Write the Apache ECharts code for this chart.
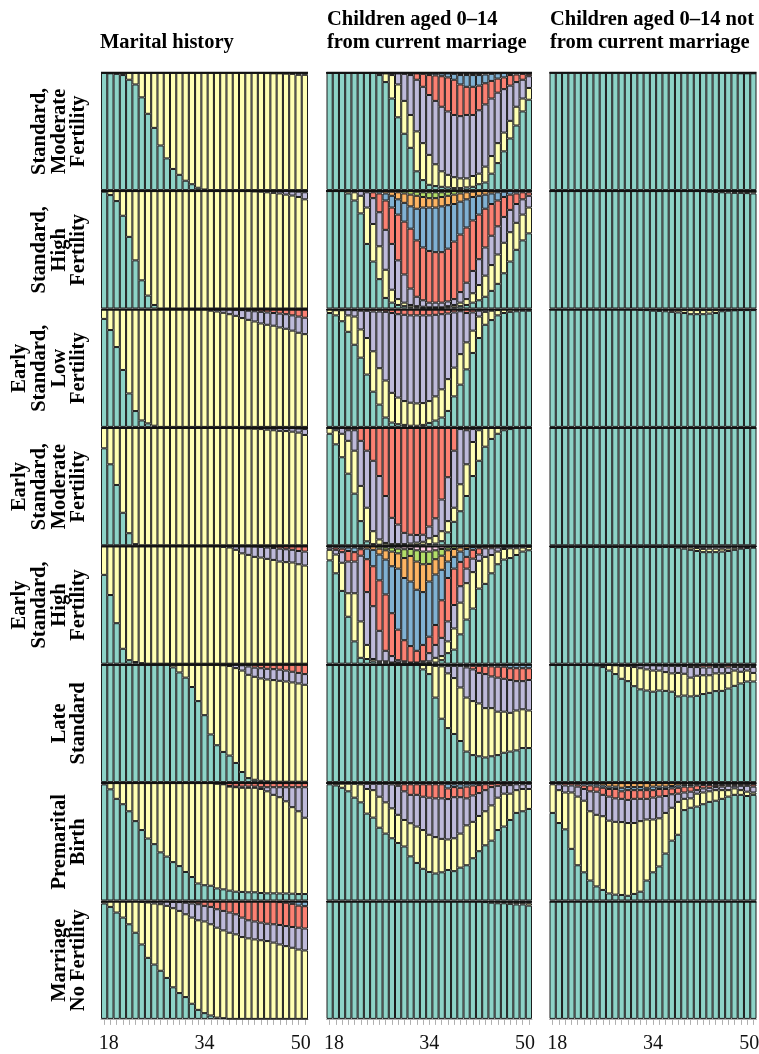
<!DOCTYPE html>
<html>
<head>
<meta charset="utf-8">
<script src="https://cdn.jsdelivr.net/npm/echarts@6/dist/echarts.min.js"></script>
<style>
html, body { margin: 0; padding: 0; background: #ffffff; }
#chart { width: 759px; height: 1054px; }
</style>
</head>
<body>
<div id="chart"></div>
<script>
// Ages on the horizontal axis and the ones that get a printed label
const ages = ['18','19','20','21','22','23','24','25','26','27','28','29','30','31','32','33','34',
              '35','36','37','38','39','40','41','42','43','44','45','46','47','48','49','50'];
const tickAges = ['18', '34', '50'];

// State colours, bottom of each stack first
const stateColors = ['#8DD3C7', '#FFFFB3', '#BEBADA', '#FB8072', '#80B1D3', '#FDB462', '#B3DE69', '#FCCDE5'];

const columnTitles = [
  ['Marital history'],
  ['Children aged 0\u201314', 'from current marriage'],
  ['Children aged 0\u201314 not', 'from current marriage']
];

const clusterLabels = [
  ['Standard,', 'Moderate', 'Fertility'],
  ['Standard,', 'High', 'Fertility'],
  ['Early', 'Standard,', 'Low', 'Fertility'],
  ['Early', 'Standard,', 'Moderate', 'Fertility'],
  ['Early', 'Standard,', 'High', 'Fertility'],
  ['Late', 'Standard'],
  ['Premarital', 'Birth'],
  ['Marriage', 'No Fertility']
];

// Each panel: one entry per age, giving the percentage in each state (bottom state first)

// ---- Standard, Moderate Fertility
const stdModMarital = [[100],[99.5,0.5],[99,1],[98,2],[94,6],[90,10],[79,21],[65,35],[53,47],[38,62],[27,73],[18,82],[13,87],[8,92],[5,95],[2,98],[0.5,99.5],
  [0,100],[0,100],[0,100],[0,100],[0,100],[0,100],[0,100],[0,100],[0,100],
  [0,99.7,0.3],[0,99.5,0.5],[0,99.5,0.5],[0,99.2,0.8],[0,99,1],[0,98.2,1.5,0.3],[0,98.2,1.5,0.3]];
const stdModChildren = [[100],[100],[100],[100],[100],[100],[100],[100],
  [98,2],[92,7.4,0.6],[78,20,2],[62,28,9.4,0.6],[48,28,23,1],[36,28,34,2],[16,34,44,5.4,0.6],[8.5,31.5,48,11,1],[4.5,25.5,51,17,2],
  [3.4,18.6,54,21.7,1.7,0.6],[2.8,13.2,55,26,2.4,0.6],[2.3,10.7,54,29,3.4,0.6],[1.7,9.3,53,30,5,1],[1.7,8.3,53,27,8,1.5,0.5],
  [2.3,7.7,54,24,10,1.5,0.5],[2.8,9.2,52,24,10,1.5,0.5],[5,9,54,21,9,1.5,0.5],[6.5,13.5,53,18,7.5,1.5],[14,15,49,15,6,1],
  [23,17,43,12,4.5,0.5],[33,16,37,10,4],[44,15,30,9,2],[55,16,21,6.5,1.5],[67,11,16,5,1],[77,10,10,2,1]];
const stdModOther = [[100],[100],[100],[100],[100],[100],[100],[100],[100],[100],[100],[100],[100],[100],[100],[100],[100],
  [100],[100],[100],[100],[100],[100],[100],[100],[100],[100],[100],[100],[100],[99.5,0.5],[99.5,0.5],[99.5,0.5]];

// ---- Standard, High Fertility
const stdHighMarital = [[99.5,0.5],[96.6,3.4],[91.5,8.5],[79,21],[61,39],[41,59],[24,76],[11,89],[3,97],
  [0,100],[0,100],[0,100],[0,100],[0,100],[0,100],[0,100],[0,100],[0,100],[0,100],[0,100],[0,100],[0,100],[0,100],[0,100],
  [0,99.7,0.3],[0,99.5,0.5],[0,99,1],[0,98.5,1.5],[0,98,2],[0,97,3],[0,96.2,3.5,0.3],[0,95,4.5,0.5],[0,93,6,1]];
const stdHighChildren = [[100],[100],[100],[98,2],[92,7,1],[81,15,4],[55,31,13,1],[40,32,22,5,1],[25,28,29,16,2],
  [9,24,34,25,6,2],[5,11,39,31,10,3.5,0.5],[3,5,33,39,13,6,1],[2,3,24,45,16,8,2],[1,2,14,51,19,10,3],
  [1,1,8,48,27,11,3.5,0.5],[0.5,1,5.5,45,34,9,4,1],[0.5,0.5,4,44,37,8,5,1],[0.5,0.5,4,43,38,8,5,1],[0.5,0.5,4,43,39,8,4,1],
  [1,1,4,45,37,8,3.5,0.5],[1,2,5,49,32,8,3],[2,3,9,49,28,7,2],[3,5,14,47,24,6,1],[5,8,19,43,20,4.5,0.5],
  [7,13,22,38,16,4],[10,18,24,33,12,3],[15,22,25,27,9,2],[21,25,24,22,7,1],[30,26,22,17,4.5,0.5],
  [40,25,19,13,3],[50,23,16,9,2],[58,22,13,6,1],[64,22,10,3,1]];
const stdHighOther = [[100],[100],[100],[100],[100],[100],[100],[100],[100],[100],[100],[100],[100],[100],[100],[100],[100],
  [100],[100],[100],[100],[100],[100],[100],[100],
  [99.5,0.5],[99.2,0.8],[99,0.7,0.3],[98.8,1,0.2],[98.5,1.2,0.3],[98.5,1.2,0.3],[98.3,1.2,0.5],[98,1.5,0.5]];

// ---- Early Standard, Low Fertility
const earlyLowMarital = [[92,8],[82.5,17.5],[68,32],[48.5,51.5],[28.5,71.5],[13.5,86.5],[5.5,94.5],[3,97],[1,99],
  [0,100],[0,100],[0,100],[0,100],[0,100],[0,100],[0,100],[0,100],
  [0,99,1],[0,98.3,1.7],[0,97.2,2.8],[0,96,4],[0,94.6,5.2,0.2],[0,92.7,6.8,0.5],[0,91.2,7.8,1],[0,89.8,8.7,1.5],
  [0,88.1,9.9,2],[0,87,10.5,2.5],[0,86.2,10.8,3],[0,84.7,11.8,3.5],[0,83.6,12.4,4],[0,82,13,5],[0,80.2,13.8,6],[0,79,14,7]];
const earlyLowChildren = [[97,3],[95,4.4,0.6],[90,9.4,0.6],[81,14,5],[70,24,5.4,0.6],[59,24,16,1],[44.6,31.1,23.2,1.1],
  [30,34.4,33.9,1.7],[19,31,48.3,1.7],[8,31.5,58.5,2],[3.7,25.3,68,3],[2.3,22.7,71,4],[1.7,20.3,73.5,4.5],[1,19.6,74.4,5],
  [1,19,75,5],[1.7,18.6,74.7,5],[3.4,18.6,73,5],[5.4,20.6,69.5,4.5],[8,24,64,4],[13.6,27.1,55.9,3.4],[26,24.5,47,2.5],
  [36,26,36.5,1.5],[49,23,25,3],[63,19,15.5,2.5],[75.7,18.3,5,1],[87,11,2],[91,8,1],[95,4.5,0.5],[97,3],[98,2],
  [98.5,1.5],[99,1],[99,1]];
const earlyLowOther = [[100],[100],[100],[100],[100],[100],[100],[100],[100],[100],[100],[100],[100],[100],
  [99.7,0.3],[99.5,0.5],[99,1],[98.8,1,0.2],[98.5,1.2,0.3],[98,1.5,0.5],[97.5,2,0.5],[97,2.5,0.5],[96,3.5,0.5],
  [96,3.5,0.5],[96,3.5,0.5],[96.5,3,0.5],[97,2.5,0.5],[98.5,1.2,0.3],[99,0.8,0.2],[99.3,0.5,0.2],[99.5,0.5],[99.5,0.5],[99.5,0.5]];

// ---- Early Standard, Moderate Fertility
const earlyModMarital = [[82.6,17.4],[69,31],[51.4,48.6],[27.7,72.3],[10.3,89.7],[1,99],
  [0,100],[0,100],[0,100],[0,100],[0,100],[0,100],[0,100],[0,100],[0,100],[0,100],[0,100],[0,100],[0,100],[0,100],[0,100],[0,100],
  [0,99.7,0.3],[0,99.5,0.5],[0,99.3,0.7],[0,99,1],[0,98.5,1.5],[0,98,2],[0,97.5,2.5],[0,97.3,2.5,0.2],[0,96.8,3,0.2],
  [0,96,3.5,0.5],[0,94,5,1]];
const earlyModChildren = [[95,5],[86,12,2],[75,20,5],[61,28,9,2],[44,36.6,17.4,2],[20.6,30,38.4,11],[3.4,28.6,48.6,19.4],
  [1,11,60,28],[0.5,4.5,54,41],[0,2,40,58],[0,1,22.4,76.6],[0,1,16.7,82.3],[0,1,9.6,89.4],[0,1.5,7.5,91],[0.3,2,6.5,91.2],
  [0.5,2.5,6,91],[1,5,10,84],[1.5,6.5,15,77],[3.5,8.5,27,61],[11,9.6,37.4,42],[20,12,48.6,19.4],[29,23,47,1],
  [42,27,29,2],[59,29,11,1],[72,26,2],[84,16],[90.6,9.4],[95,5],[98,2],[99,1],[100],[100],[100]];
const earlyModOther = [[100],[100],[100],[100],[100],[100],[100],[100],[100],[100],[100],[100],[100],[100],[100],[100],[100],
  [100],[100],[100],[100],[100],[100],[100],[100],[100],[100],[100],[100],[100],[100],[100],[100]];

// ---- Early Standard, High Fertility
const earlyHighMarital = [[75.7,24.3],[58.5,41.5],[34.5,65.5],[12.7,87.3],[3,97],[1.4,98.6],[0.5,99.5],
  [0,100],[0,100],[0,100],[0,100],[0,100],[0,100],[0,100],[0,100],[0,100],[0,100],[0,100],[0,100],
  [0,99.5,0.5],[0,99,1],[0,97,3],[0,94,6],[0,92.7,7.3],[0,91,8.8,0.2],[0,90.4,9.1,0.5],[0,89.3,9.7,1],
  [0,88.4,10.1,1.5],[0,87,11,2],[0,86.5,11,2.5],[0,86.2,10.8,3],[0,84.7,11.3,4],[0,83.6,11.9,4.5]];
const earlyHighChildren = [[88,9,2,1],[77,16,4,2,1],[62,24,9,3,2],[40,20,27,9,3,1],[19,41,27,8,4,1],[5,31,56,5.5,1.5,1],
  [4,12,45,28,9,2],[2,2,45,34,14,3],[1,1,26,43,22,5,2],[1,1,9,48,29.7,7.9,2.4,1],[0.5,0.5,5.5,36.5,40,12.5,3.5,1],
  [0.5,0.5,2,26,52,13,4,2],[0,1,1,18,53,17,7.5,2.5],[0,0.5,0.5,14,55,21.8,5.9,2.3],[0,0.5,0.5,10,52,24,9.6,3.4],
  [0,1,1,14,45,23.7,10.8,4.5],[0.5,1.5,7,14,47,15,10.5,4.5],[1,4,11,17,43,13,7.6,3.4],[3,3.5,15.5,32,26,12,5.7,2.3],
  [9,10,17,37,14,9.6,2.4,1],[12,18,20,31,10,6.7,2.3],[25,27,14,20.7,8.8,3.5,1],[37.6,31,12.4,10,6.7,2.3],
  [47,31,11.5,7.5,2.4,0.6],[64,23.6,5.4,5.3,1.2,0.5],[68,23,7.3,1.7],[77,15.6,5.7,1.7],[84.7,10.8,3.5,1],
  [88.7,9,1.8,0.5],[90,8.3,1.7],[92.6,5.7,1.7],[95.5,3.5,1],[96.6,2.9,0.5]];
const earlyHighOther = [[99.4,0.3,0.3],[99.4,0.3,0.3],[99.4,0.3,0.3],[99.4,0.3,0.3],[99.4,0.3,0.3],[99.4,0.3,0.3],[99.4,0.3,0.3],
  [99.4,0.3,0.3],[99.4,0.3,0.3],[99.4,0.3,0.3],[99.4,0.3,0.3],[99.4,0.3,0.3],[99.4,0.3,0.3],[99.4,0.3,0.3],[99.4,0.3,0.3],
  [99.4,0.3,0.3],[99.4,0.3,0.3],[99.4,0.3,0.3],[99.4,0.3,0.3],[99.4,0.3,0.3],
  [99,0.7,0.3],[98,1.5,0.5],[97,2,1],[96,2.5,1.5],[95,2.8,1.8,0.4],[95,3,1.6,0.4],[95,3,1.7,0.3],[95.5,2.5,1.7,0.3],
  [96,2.2,1.5,0.3],[97,1.8,1,0.2],[98,1,0.8,0.2],[98.5,0.8,0.5,0.2],[98.8,0.8,0.4]];

// ---- Late Standard
const lateMarital = [[100],[100],[100],[100],[100],[100],[100],[100],[100],[100],[100],
  [97.7,2.3],[93.4,6.6],[89,11],[81,19],[69,31],[57,43],[40.6,59.4],[31.4,68.6],[25.7,73.8,0.5],[22.6,76.3,1.1],
  [16.3,80.8,2.9],[8.6,86.4,4.5,0.5],[3.4,88,7.1,1.5],[2,87.7,7.8,2.5],[1.1,87.2,8.7,3],[0.6,86.8,9.1,3.5],
  [0.3,86.6,9.3,3.8],[0.3,86,9.5,4.2],[0.3,85.4,9.3,5],[0.3,84.6,9.1,6],[0.3,83.7,9,7],[0.3,82.6,9.1,8]];
const lateChildren = [[100],[100],[100],[100],[100],[100],[100],[100],[100],[100],[100],[100],[100],[100],[100],
  [96,4],[92,8],[72,27,1],[54,44.6,1.4],[46,46.6,6.4,1],[41,47.6,10.4,1],[35,45.6,18.4,1],[26,46,25.7,1.3,1],
  [23,46,27,3,1],[22,45,26,6,1],[21,42,29,7,1],[22,41,27,8.6,1.4],[23,37,29,9.3,1.7],[25,35,28,10.3,1.7],
  [26,33,28,10,3],[27,34,25,11,3],[29,33,24,11,3],[29,32,26,10,3]];
const lateOther = [[100],[100],[100],[100],[100],[100],[100],
  [99.4,0.6],[98,2],[95,5],[92,7.5,0.5],[88,11,1],[86,13,1],[81.7,16.3,2],[79,18,2.5,0.5],[78,18,3.5,0.5],
  [77,18,4.5,0.5],[78,17,4.3,0.7],[77.7,16,5.3,1],[77,15.6,6.4,1],[73,20,6,1],[73.7,18.6,6.6,1.1],[73,16,9,2],
  [73.5,17.1,7.4,2],[75,16,6.7,2.3],[76,15,6.7,2.3],[77.5,15.1,5.4,1,1],[77.7,14.9,5.4,1,1],[79.7,13.3,4.7,2.3],
  [82,13,3,2],[84,10,4,2],[85.7,9.3,3,1,1],[85.7,7.3,5,1,1]];

// ---- Premarital Birth
const premaritalMarital = [[98.9,1.1],[94.7,5.3],[86.6,13.4],[82,18],[76,24],[67.6,32.4],[60,40],[52.8,47.2],[48,52],
  [41,59],[37.4,62.6],[32.7,67.3],[29.3,70.7],[24.3,75.7],[20,80],[14.5,85.5],[13,87],[12.6,87.4],[10.3,89.2,0,0.5],
  [9.5,89.5,0.3,0.7],[8.4,88.6,0.5,2.5],[7.5,89,0.5,3],[7.3,88.7,1,3],[7,89,1,3],[7,89,1,3],[6.4,88.6,1.5,3.5],
  [6.1,86.9,3.5,3.5],[6.1,83.9,6.5,3.5],[6,82,8.5,3.5],[6,78.5,12,3.5],[5.8,73.7,17,3.5],[5.5,70.5,20.5,3.5],[5.5,65,26,3.5]];
const premaritalChildren = [[99,1],[98,1.5,0.5],[96,3.5,0.5],[93,6.5,0.5],[87.6,11.8,0.6],[83.6,15.4,1],[74,21,4.4,0.6],
  [70.6,23.4,5.4,0.6],[62,26.4,11,0.6],[57,26.6,15.8,0.6],[53,25.5,20.4,1.1],[49,24,24.7,1.7,0.6],[46,22.6,24.4,6,1],
  [37.6,28.2,24.2,9,1],[32,31,27,9,1],[27,33,28.4,10.6,1],[24.3,31.7,31.6,11.4,1],[23,31,33,12,1],[24,28.5,34.5,12,1],
  [26,26,34.4,9.1,3.9,0.6],[25,28,35,8.6,2.4,1],[28,29,31,8,3,1],[30,34,23,10,2.4,0.6],[36,31,22.5,8.5,2],
  [42,30,19.5,6.8,1.7],[47,29,18,5,1],[51,30,15.6,2.8,0.6],[60,27.6,10.1,2.3],[63,28,7.3,1.7],[68.6,22.4,7.3,1.7],
  [74.6,19.4,5,1],[76,19,4,1],[78,17,4.4,0.6]];
const premaritalOther = [[74.6,24.4,1],[66,28,5,1],[60.6,31.4,6,2],[44,48,6,2],[30,58.5,8.5,2,1],[24,61,10,3,2],
  [17,59,17,5,2],[12,61,19.7,4.3,2,1],[9,62.8,18.2,6,2,2],[6,62,20.5,6.5,2,3],[5,62,20,8,2,3],[4.7,62.1,19.8,6.4,3,4],
  [4,62,19.7,8.3,2.6,3.4],[5.6,60.4,20.6,7.4,2.6,3.4],[7.5,60.1,19,7.4,2.6,3.4],[17,52,17.6,7.4,2,4],[24,45,18.7,6.3,3,3],
  [29,41,18.5,6.5,2,3],[40,34.6,14.4,6,2,3],[51,28,11.5,5,2,2.5],[56,28,7,5,2,2],[77,9.6,5.4,5,1.5,1.5],
  [79,8,5.7,4.3,1.5,1.5],[80,11,3,4,1,1],[82,10,3.5,2.8,1,0.7],[84,9,3,2.5,1,0.5],[85,9,2.6,1.9,1,0.5],
  [86.6,7.4,3,1.5,1,0.5],[88.5,5.5,3.7,1.3,0.5,0.5],[90,5.5,2.2,1.3,0.5,0.5],[90,4,3.7,1.3,0.5,0.5],
  [89,3.7,5,1.3,0.5,0.5],[90,2,5,2,0.5,0.5]];

// ---- Marriage, No Fertility
const noFertMarital = [[98.3,1.7],[95.4,4.6],[90.6,9.4],[86.3,13.7],[80.6,19.4],[73.4,26.6],[63.4,36.3,0.3],[52,47.2,0.8],
  [46.3,52,1.7],[41,56.7,2.3],[34.9,61.4,3.7],[26.9,67.4,5.4,0.3],[22,70,7.5,0.5],[18.6,70.5,9.9,1],[12.9,73.4,12,1.7],
  [7.7,76.3,13.7,2.3],[4.9,78.1,13.3,3.7],[2.9,77.7,14.8,4.6],[1.1,76.6,15.7,6.6],[0.6,74.8,16.6,8],[0,73.4,17.2,9.4],
  [0,72,17.1,10.9],[0,69.7,16.6,13.7],[0,68.6,15.4,16],[0,67.7,15.3,17],[0,67,15,18],[0,66.3,14.8,18.9],
  [0,65,15.6,19.4],[0,63.4,16.6,19.5,0.5],[0,62,17.1,19.9,1],[0,60.6,17.7,19.7,2],[0,59.1,18.6,18.8,3.5],[0,58.3,18.7,19,4]];
const noFertChildren = [[100],[100],[100],[100],[100],[100],[100],[100],[100],[100],[100],[100],[100],[100],[100],[100],[100],
  [100],[100],[100],[100],[100],[100],[100],[100],
  [99.5,0.5],[99,1],[98.5,1.5],[98.5,1,0.5],[98,1.5,0.5],[97.5,1.5,0.5,0.5],[97.5,1.5,0.5,0.5],[96.5,2,1,0.5]];
const noFertOther = [[100],[100],[100],[100],[100],[100],[100],[100],[100],[100],[100],[100],[100],[100],[100],[100],[100],
  [100],[100],[100],[100],[100],[100],[100],[100],[100],[100],[100],[100],[100],[100],[100],[100]];

const panelRows = [
  [stdModMarital, stdModChildren, stdModOther],
  [stdHighMarital, stdHighChildren, stdHighOther],
  [earlyLowMarital, earlyLowChildren, earlyLowOther],
  [earlyModMarital, earlyModChildren, earlyModOther],
  [earlyHighMarital, earlyHighChildren, earlyHighOther],
  [lateMarital, lateChildren, lateOther],
  [premaritalMarital, premaritalChildren, premaritalOther],
  [noFertMarital, noFertChildren, noFertOther]
];

// Layout of the 8 x 3 panel grid (pixels)
const colLeft = [101, 326.5, 549.5];
const colWidth = [207, 205.5, 207];
const rowTop0 = 72.7, rowStep = 118.4, rowHeight = 117.4;
const serif = '"Liberation Serif", "Times New Roman", serif';
const axisFont = { fontFamily: serif, fontSize: 20, color: '#111' };

const grids = [], xAxes = [], yAxes = [], series = [];
const graphics = [];
panelRows.forEach((row, r) => {
  row.forEach((panel, c) => {
    const gi = grids.length;
    const isBottom = r === panelRows.length - 1;
    const top = rowTop0 + r * rowStep;
    grids.push({ left: colLeft[c], top: top, width: colWidth[c], height: rowHeight,
                 containLabel: false, outerBoundsMode: 'none' });
    xAxes.push({
      type: 'category', gridIndex: gi, data: ages, show: isBottom, offset: 7,
      axisLine: { show: true, lineStyle: { color: '#b0b0b0', width: 1 } },
      axisTick: { show: true, interval: 0, alignWithLabel: true, length: 6, lineStyle: { color: '#b0b0b0' } },
      axisLabel: Object.assign({
        interval: (i, v) => tickAges.indexOf(v) >= 0,
        margin: 8,
        // first and last labels sit slightly inside the end ticks
        formatter: v => v === tickAges[0] ? '{first|' + v + '}' : (v === tickAges[2] ? '{last|' + v + '}' : v),
        rich: {
          first: Object.assign({ padding: [0, 0, 0, 9] }, axisFont),
          last: Object.assign({ padding: [0, 8, 0, 0] }, axisFont)
        }
      }, axisFont),
      splitLine: { show: false }
    });
    yAxes.push({ type: 'value', gridIndex: gi, min: 0, max: 100, show: false, splitLine: { show: false } });
    const nStates = Math.max(...panel.map(b => b.length));
    for (let s = 0; s < nStates; s++) {
      series.push({
        type: 'bar', xAxisIndex: gi, yAxisIndex: gi, stack: 'p' + gi,
        barCategoryGap: '0%', barGap: '0%',
        itemStyle: { color: stateColors[s], borderColor: '#1c1c1c', borderWidth: 1 },
        emphasis: { disabled: true },
        data: panel.map(b => {
          const total = b.reduce((a, v) => a + v, 0);
          return (b[s] || 0) / total * 100;
        })
      });
    }
    // heavier rule along the top edge of every panel
    graphics.push({ type: 'line', z: 100,
      shape: { x1: colLeft[c], y1: top, x2: colLeft[c] + colWidth[c], y2: top },
      style: { stroke: '#111', lineWidth: 2 } });
  });
});

// Column titles and rotated row labels
const titleFont = 'bold 20.5px ' + serif;
const titleX = [100, 327, 550];
columnTitles.forEach((lines, c) => {
  const ys = lines.length === 1 ? [43] : [20, 43];
  lines.forEach((t, k) => {
    graphics.push({ type: 'text', x: titleX[c], y: ys[k],
      style: { text: t, font: titleFont, fill: '#000', align: 'left', verticalAlign: 'middle',
               textAlign: 'left', textVerticalAlign: 'middle' } });
  });
});
clusterLabels.forEach((lines, r) => {
  const cy = rowTop0 + r * rowStep + rowHeight / 2;
  const n = lines.length;
  lines.forEach((t, k) => {
    graphics.push({ type: 'text', x: 79 - (n - 1 - k) * 19.7, y: cy, rotation: Math.PI / 2,
      style: { text: t, font: titleFont, fill: '#000', align: 'center', verticalAlign: 'middle',
               textAlign: 'center', textVerticalAlign: 'middle' } });
  });
});

const chart = echarts.init(document.getElementById('chart'), null, { renderer: 'canvas' });
chart.setOption({
  animation: false,
  backgroundColor: '#ffffff',
  grid: grids,
  xAxis: xAxes,
  yAxis: yAxes,
  series: series,
  graphic: graphics
});
</script>
</body>
</html>
